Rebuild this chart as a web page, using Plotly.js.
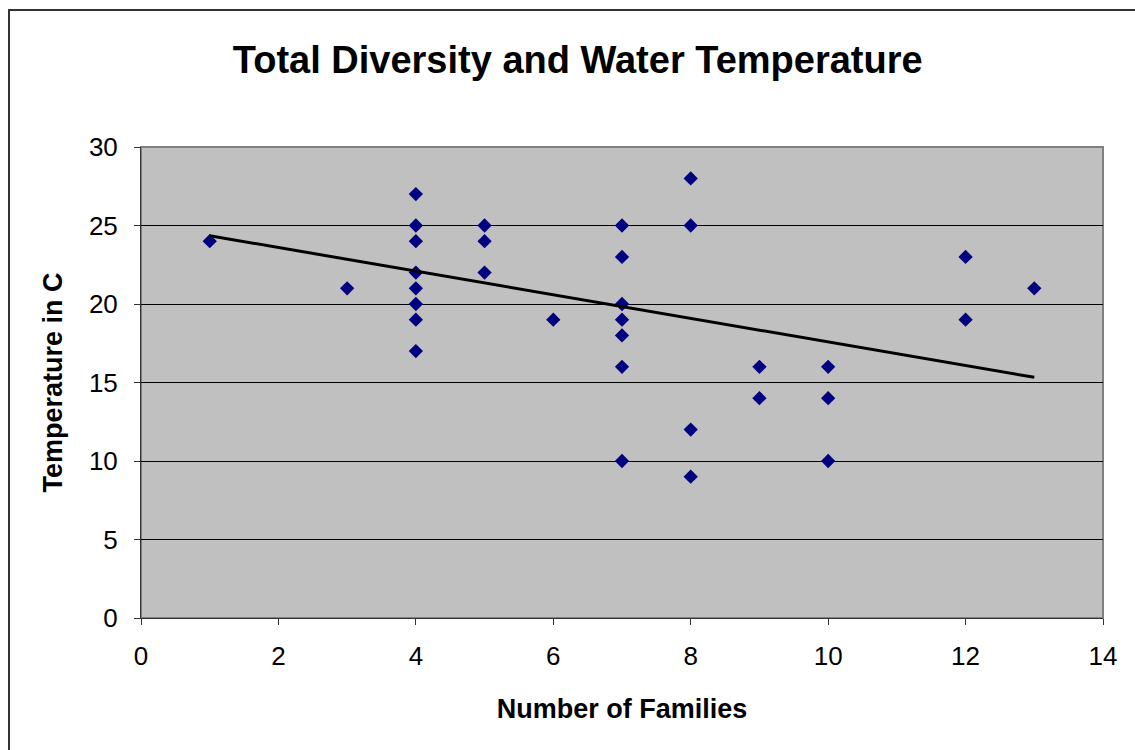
<!DOCTYPE html>
<html>
<head>
<meta charset="utf-8">
<script src="https://cdn.plot.ly/plotly-3.0.1.min.js"></script>
<style>
  body { margin: 0; background: #fff; }
  #frame { position: absolute; left: 8px; top: 9px; width: 1140px; height: 760px;
           border-left: 2px solid #333; border-top: 2px solid #333; }
  #chart { position: absolute; left: 0; top: 0; width: 1135px; height: 750px; }
</style>
</head>
<body>
<div id="frame"></div>
<div id="chart"></div>
<script>
'use strict'

// data

const families = [1, 3, 4, 4, 4, 4, 4, 4, 4, 4, 5, 5, 5, 6, 7, 7, 7, 7, 7, 7, 7, 8, 8, 8, 8, 9, 9, 10, 10, 10, 12, 12, 13]
const temperature = [24, 21, 27, 25, 24, 22, 21, 20, 19, 17, 25, 24, 22, 19, 25, 23, 20, 19, 18, 16, 10, 28, 25, 12, 9, 16, 14, 16, 14, 10, 23, 19, 21]

// linear trendline end points
const trend_x = [1, 13]
const trend_y = [24.35, 15.33]

const font = 'Arial, "Liberation Sans", sans-serif'

let trace_points = {
  type: 'scatter',
  mode: 'markers',
  x: families,
  y: temperature,
  marker: { symbol: 'diamond', size: 11, color: '#000080' },
  hoverinfo: 'none'
}

let trace_trend = {
  type: 'scatter',
  mode: 'lines',
  x: trend_x,
  y: trend_y,
  line: { color: '#000', width: 3 },
  hoverinfo: 'none'
}

let layout = {
  width: 1135,
  height: 750,
  showlegend: false,
  paper_bgcolor: 'rgba(0,0,0,0)',
  plot_bgcolor: '#c0c0c0',
  margin: { l: 141, r: 32, t: 147, b: 132 },
  font: { family: font, color: '#000' },
  title: {
    text: '<b>Total Diversity and Water Temperature</b>',
    font: { family: font, size: 38 },
    x: 0.509, xref: 'container', y: 0.92, yanchor: 'middle'
  },
  xaxis: {
    range: [0, 14],
    dtick: 2,
    showgrid: false,
    zeroline: false,
    showline: true,
    linecolor: '#333',
    linewidth: 1,
    ticks: 'outside',
    ticklen: 6,
    tickcolor: '#333',
    ticklabelstandoff: 9,
    tickfont: { family: font, size: 26 },
    title: { text: '<b>Number of Families</b>', font: { family: font, size: 27 }, standoff: 28 }
  },
  yaxis: {
    range: [0, 30],
    dtick: 5,
    showgrid: true,
    gridcolor: '#000',
    gridwidth: 1,
    zeroline: false,
    showline: true,
    linecolor: '#333',
    linewidth: 1,
    ticks: 'outside',
    ticklen: 6,
    tickcolor: '#333',
    ticklabelstandoff: 11,
    tickfont: { family: font, size: 26 },
    title: { text: '<b>Temperature in C</b>', font: { family: font, size: 27 }, standoff: 18 }
  },
  shapes: [{
    type: 'rect', xref: 'paper', yref: 'paper',
    x0: 0, x1: 1, y0: 0, y1: 1,
    line: { color: '#808080', width: 2 },
    layer: 'below'
  }]
}

Plotly.newPlot('chart', [trace_points, trace_trend], layout, { staticPlot: true })
</script>
</body>
</html>
